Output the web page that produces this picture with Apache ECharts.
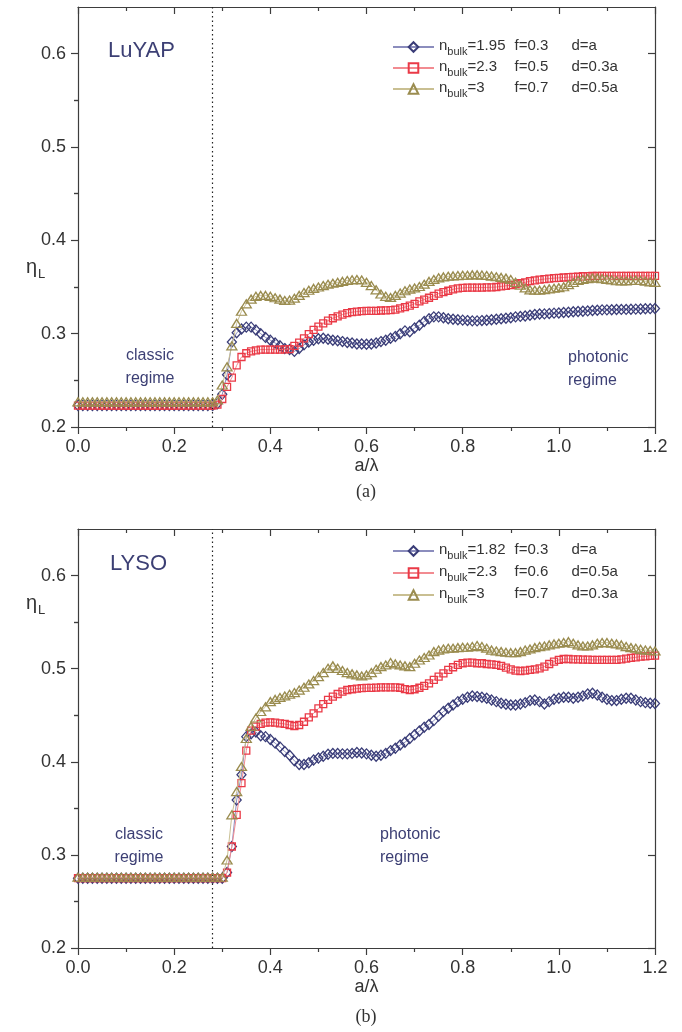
<!DOCTYPE html>
<html>
<head>
<meta charset="utf-8">
<script src="https://cdn.jsdelivr.net/npm/echarts@6/dist/echarts.min.js"></script>
<style>
  html, body { margin: 0; padding: 0; background: #fff; }
  #chart { width: 682px; height: 1032px; }
</style>
</head>
<body>
<div id="chart"></div>
<script>
// Sampling grid of the normalised frequency a/lambda
const aOverLambda = [
  0.00,0.01,0.02,0.03,0.04,0.05,0.06,0.07,0.08,0.09,
  0.10,0.11,0.12,0.13,0.14,0.15,0.16,0.17,0.18,0.19,
  0.20,0.21,0.22,0.23,0.24,0.25,0.26,0.27,0.28,0.29,
  0.30,0.31,0.32,0.33,0.34,0.35,0.36,0.37,0.38,0.39,
  0.40,0.41,0.42,0.43,0.44,0.45,0.46,0.47,0.48,0.49,
  0.50,0.51,0.52,0.53,0.54,0.55,0.56,0.57,0.58,0.59,
  0.60,0.61,0.62,0.63,0.64,0.65,0.66,0.67,0.68,0.69,
  0.70,0.71,0.72,0.73,0.74,0.75,0.76,0.77,0.78,0.79,
  0.80,0.81,0.82,0.83,0.84,0.85,0.86,0.87,0.88,0.89,
  0.90,0.91,0.92,0.93,0.94,0.95,0.96,0.97,0.98,0.99,
  1.00,1.01,1.02,1.03,1.04,1.05,1.06,1.07,1.08,1.09,
  1.10,1.11,1.12,1.13,1.14,1.15,1.16,1.17,1.18,1.19,
  1.20
];

// (a) LuYAP light extraction efficiency
const luyapN195 = [
  0.223,0.223,0.223,0.223,0.223,0.223,0.223,0.223,0.223,0.223,
  0.223,0.223,0.223,0.223,0.223,0.223,0.223,0.223,0.223,0.223,
  0.223,0.223,0.223,0.223,0.223,0.223,0.223,0.223,0.223,0.225,
  0.235,0.256,0.291,0.301,0.305,0.307,0.307,0.304,0.300,0.296,
  0.293,0.290,0.287,0.284,0.283,0.281,0.284,0.288,0.291,0.293,
  0.2945,0.295,0.294,0.293,0.2925,0.2915,0.2905,0.290,0.289,0.289,
  0.2887,0.289,0.290,0.2915,0.293,0.295,0.297,0.300,0.303,0.302,
  0.306,0.309,0.313,0.316,0.318,0.318,0.317,0.316,0.3155,0.315,
  0.3145,0.314,0.3137,0.3137,0.314,0.3144,0.315,0.3155,0.316,0.3165,
  0.317,0.318,0.3185,0.319,0.3197,0.3205,0.321,0.3212,0.3215,0.322,
  0.3222,0.3226,0.323,0.3234,0.3237,0.324,0.3244,0.3248,0.3251,0.3255,
  0.3255,0.3257,0.3258,0.326,0.326,0.3262,0.3263,0.3265,0.3267,0.3268,
  0.327
];
const luyapN23 = [
  0.223,0.223,0.223,0.223,0.223,0.223,0.223,0.223,0.223,0.223,
  0.223,0.223,0.223,0.223,0.223,0.223,0.223,0.223,0.223,0.223,
  0.223,0.223,0.223,0.223,0.223,0.223,0.223,0.223,0.223,0.224,
  0.230,0.243,0.253,0.266,0.275,0.279,0.281,0.282,0.283,0.283,
  0.283,0.283,0.283,0.2832,0.2835,0.287,0.2905,0.295,0.2995,0.304,
  0.3075,0.311,0.314,0.3165,0.3185,0.3205,0.322,0.323,0.3237,0.3242,
  0.3244,0.3244,0.3245,0.3248,0.325,0.3253,0.3258,0.327,0.3285,0.330,
  0.332,0.3345,0.3365,0.3385,0.3405,0.343,0.3445,0.346,0.3475,0.3485,
  0.349,0.3494,0.3494,0.3494,0.3494,0.3495,0.3497,0.350,0.3506,0.3513,
  0.352,0.353,0.354,0.355,0.3563,0.357,0.3578,0.3585,0.359,0.3595,
  0.3598,0.3602,0.3605,0.3608,0.361,0.3615,0.3617,0.3618,0.3619,0.362,
  0.362,0.362,0.362,0.362,0.362,0.362,0.362,0.362,0.362,0.362,
  0.362
];
const luyapN3 = [
  0.227,0.227,0.227,0.227,0.227,0.227,0.227,0.227,0.227,0.227,
  0.227,0.227,0.227,0.227,0.227,0.227,0.227,0.227,0.227,0.227,
  0.227,0.227,0.227,0.227,0.227,0.227,0.227,0.227,0.227,0.229,
  0.245,0.2645,0.287,0.311,0.324,0.332,0.337,0.340,0.341,0.341,
  0.340,0.3385,0.337,0.3355,0.336,0.338,0.341,0.344,0.3465,0.3485,
  0.350,0.3515,0.353,0.354,0.355,0.356,0.357,0.3577,0.358,0.3575,
  0.355,0.3515,0.347,0.3425,0.340,0.3388,0.341,0.3435,0.346,0.3478,
  0.349,0.3505,0.353,0.356,0.358,0.3598,0.3608,0.3615,0.3619,0.3622,
  0.3626,0.3626,0.363,0.363,0.3628,0.3623,0.3617,0.361,0.3603,0.3595,
  0.358,0.355,0.352,0.349,0.347,0.3465,0.3466,0.3472,0.348,0.3487,
  0.3493,0.3503,0.3525,0.3548,0.357,0.358,0.359,0.3597,0.3595,0.3588,
  0.3582,0.3575,0.3567,0.3565,0.3565,0.357,0.3572,0.357,0.3562,0.3555,
  0.355
];

// (b) LYSO light extraction efficiency
const lysoN182 = [
  0.275,0.275,0.275,0.275,0.275,0.275,0.275,0.275,0.275,0.275,
  0.275,0.275,0.275,0.275,0.275,0.275,0.275,0.275,0.275,0.275,
  0.275,0.275,0.275,0.275,0.275,0.275,0.275,0.275,0.275,0.275,
  0.275,0.281,0.309,0.359,0.386,0.427,0.430,0.432,0.428,0.427,
  0.424,0.420,0.416,0.411,0.407,0.401,0.397,0.397,0.399,0.402,
  0.404,0.406,0.408,0.409,0.409,0.4085,0.4085,0.409,0.410,0.4095,
  0.4085,0.407,0.406,0.407,0.409,0.412,0.4145,0.418,0.421,0.425,
  0.429,0.433,0.437,0.440,0.4442,0.4492,0.4539,0.4575,0.461,0.4646,
  0.4671,0.4693,0.4707,0.470,0.4693,0.4682,0.4664,0.4646,0.4628,0.4618,
  0.461,0.461,0.4621,0.4635,0.4657,0.4664,0.4646,0.4621,0.4646,0.4671,
  0.4682,0.4693,0.4693,0.4682,0.4693,0.4707,0.4728,0.4736,0.4718,0.4693,
  0.4671,0.4657,0.4657,0.4671,0.4682,0.4682,0.4664,0.4646,0.4635,0.4628,
  0.4625
];
const lysoN23 = [
  0.275,0.275,0.275,0.275,0.275,0.275,0.275,0.275,0.275,0.275,
  0.275,0.275,0.275,0.275,0.275,0.275,0.275,0.275,0.275,0.275,
  0.275,0.275,0.275,0.275,0.275,0.275,0.275,0.275,0.275,0.275,
  0.275,0.281,0.309,0.343,0.377,0.412,0.4334,0.4377,0.4406,0.442,
  0.4424,0.442,0.4413,0.4406,0.4395,0.4384,0.4395,0.443,0.4477,0.452,
  0.4574,0.462,0.4664,0.470,0.4728,0.4753,0.4771,0.4779,0.4786,0.479,
  0.4793,0.4793,0.4797,0.480,0.480,0.480,0.480,0.4795,0.478,0.4771,
  0.4779,0.4795,0.4815,0.4843,0.4879,0.4915,0.495,0.4986,0.5015,0.504,
  0.5058,0.5065,0.5065,0.5058,0.5058,0.505,0.5047,0.504,0.5029,0.5011,
  0.4993,0.4979,0.4975,0.4979,0.4986,0.4993,0.5004,0.5022,0.505,0.5076,
  0.5094,0.5104,0.5104,0.510,0.510,0.5097,0.5097,0.5094,0.5094,0.5094,
  0.5094,0.5094,0.5094,0.510,0.5108,0.5115,0.5122,0.5129,0.5133,0.5137,
  0.514
];
const lysoN3 = [
  0.276,0.276,0.276,0.276,0.276,0.276,0.276,0.276,0.276,0.276,
  0.276,0.276,0.276,0.276,0.276,0.276,0.276,0.276,0.276,0.276,
  0.276,0.276,0.276,0.276,0.276,0.276,0.276,0.276,0.276,0.276,
  0.276,0.2945,0.343,0.368,0.395,0.425,0.438,0.447,0.454,0.459,
  0.4646,0.467,0.469,0.4707,0.4725,0.4743,0.477,0.480,0.4836,0.4872,
  0.4915,0.4958,0.5004,0.503,0.5004,0.498,0.4958,0.4944,0.4933,0.4922,
  0.4933,0.4958,0.4994,0.5022,0.504,0.5065,0.5051,0.504,0.503,0.5022,
  0.5058,0.5093,0.512,0.5147,0.5183,0.520,0.5212,0.522,0.522,0.5226,
  0.523,0.523,0.5237,0.5248,0.5237,0.522,0.520,0.519,0.5183,0.5176,
  0.5172,0.5172,0.5183,0.520,0.5212,0.5226,0.5237,0.5244,0.5255,0.5266,
  0.5273,0.528,0.529,0.5273,0.5255,0.5244,0.5244,0.5255,0.5273,0.528,
  0.528,0.5273,0.5266,0.5255,0.5237,0.5226,0.522,0.5208,0.520,0.5195,
  0.519
];

// Legend parameters: bulk index, filling factor, thickness
const nBulkA = ['1.95', '2.3', '3'];
const fillA  = ['0.3', '0.5', '0.7'];
const depthA = ['a', '0.3a', '0.5a'];
const nBulkB = ['1.82', '2.3', '3'];
const fillB  = ['0.3', '0.6', '0.7'];
const depthB = ['a', '0.5a', '0.3a'];

// Axis ticks
const xTicks = [0.0, 0.2, 0.4, 0.6, 0.8, 1.0, 1.2];
const yMajorTicks = [0.2, 0.3, 0.4, 0.5, 0.6];
const yMinorTicks = [0.25, 0.35, 0.45, 0.55];
const X_MIN = 0, X_MAX = 1.2, Y_MIN = 0.2, Y_MAX = 0.65;
const CLASSIC_LIMIT = 0.283;   // boundary between the classic and photonic regimes

const FONT = '"Liberation Sans", Arial, Helvetica, sans-serif';
const SERIF = '"Liberation Serif", "Times New Roman", serif';
const AXIS_COLOR = '#3d3d3d';
const TEXT_COLOR = '#333333';
const NAVY = '#3c3f74';

const styles = [
  { symbol: 'diamond',  size: [9, 10], edge: '#3a3d78', line: '#8b8dbd' },
  { symbol: 'rect',     size: 7,       edge: '#ea3a47', line: '#f28b91' },
  { symbol: 'triangle', size: [10, 8], edge: '#9a8c4f', line: '#c9bf92' }
];

const pairs = ys => aOverLambda.map((x, i) => [x, ys[i]]);

const grids = [
  { left: 78, right: 27, top: 7,   height: 420 },
  { left: 78, right: 27, top: 529, height: 419 }
];

function xAxesFor(gi) {
  const base = {
    type: 'value', gridIndex: gi, min: X_MIN, max: X_MAX, interval: 0.2,
    splitLine: { show: false },
    axisLine: { show: true, onZero: false, lineStyle: { color: AXIS_COLOR, width: 1.2 } },
    minorTick: { show: true, splitNumber: 2, length: 4, lineStyle: { color: AXIS_COLOR, width: 1.2 } },
    minorSplitLine: { show: false }
  };
  return [
    Object.assign({}, base, {
      position: 'bottom',
      axisTick: { show: true, length: 7, lineStyle: { color: AXIS_COLOR, width: 1.2 } },
      axisLabel: {
        show: true, margin: 11, fontSize: 18, color: TEXT_COLOR, fontFamily: FONT,
        customValues: xTicks, formatter: v => v.toFixed(1)
      },
      name: 'a/λ', nameLocation: 'middle', nameGap: 30,
      nameTextStyle: { fontSize: 18, color: TEXT_COLOR, fontFamily: FONT, verticalAlign: 'top' }
    }),
    Object.assign({}, base, {
      position: 'top',
      axisTick: { show: true, inside: true, length: 7, lineStyle: { color: AXIS_COLOR, width: 1.2 } },
      minorTick: { show: true, splitNumber: 2, length: 4, lineStyle: { color: AXIS_COLOR, width: 1.2 } },
      axisLabel: { show: false }
    })
  ];
}

function yAxesFor(gi) {
  const base = {
    type: 'value', gridIndex: gi, min: Y_MIN, max: Y_MAX, interval: 0.1,
    splitLine: { show: false }
  };
  const line = { show: true, onZero: false, lineStyle: { color: AXIS_COLOR, width: 1.2 } };
  const tick = (len, inside, values) => ({
    show: true, inside, length: len, customValues: values,
    lineStyle: { color: AXIS_COLOR, width: 1.2 }
  });
  return [
    Object.assign({}, base, {
      position: 'left', axisLine: line, axisTick: tick(7, false, yMajorTicks),
      axisLabel: {
        show: true, margin: 12, fontSize: 18, color: TEXT_COLOR, fontFamily: FONT,
        customValues: yMajorTicks, formatter: v => v.toFixed(1)
      }
    }),
    Object.assign({}, base, {
      position: 'left', axisLine: { show: false }, axisTick: tick(4, false, yMinorTicks),
      axisLabel: { show: false }
    }),
    Object.assign({}, base, {
      position: 'right', axisLine: line, axisTick: tick(7, true, yMajorTicks),
      axisLabel: { show: false }
    }),
    Object.assign({}, base, {
      position: 'right', axisLine: { show: false }, axisTick: tick(4, true, yMinorTicks),
      axisLabel: { show: false }
    })
  ];
}

const panelSeries = [
  { names: ['LuYAP n1.95', 'LuYAP n2.3', 'LuYAP n3'], values: [luyapN195, luyapN23, luyapN3] },
  { names: ['LYSO n1.82', 'LYSO n2.3', 'LYSO n3'],   values: [lysoN182, lysoN23, lysoN3] }
];

const legendText = {};
panelSeries[0].names.forEach((n, i) => {
  legendText[n] = `{n|n}{s|bulk}{v|=${nBulkA[i]}}{f|f=${fillA[i]}}{d|d=${depthA[i]}}`;
});
panelSeries[1].names.forEach((n, i) => {
  legendText[n] = `{n|n}{s|bulk}{v|=${nBulkB[i]}}{f|f=${fillB[i]}}{d|d=${depthB[i]}}`;
});

const series = [];
panelSeries.forEach((panel, gi) => {
  panel.values.forEach((ys, si) => {
    const st = styles[si];
    const s = {
      type: 'line', name: panel.names[si],
      xAxisIndex: gi * 2, yAxisIndex: gi * 4,
      data: pairs(ys),
      symbol: st.symbol, symbolSize: st.size, showSymbol: true,
      itemStyle: { color: 'rgba(255,255,255,0)', borderColor: st.edge, borderWidth: 1.3 },
      lineStyle: { color: st.line, width: 1 },
      emphasis: { disabled: true },
      z: 3 + si
    };
    if (si === 0) {
      s.markLine = {
        silent: true, symbol: ['none', 'none'], animation: false,
        label: { show: false },
        lineStyle: { color: '#222', width: 1.2, type: [1.5, 3] },
        data: [{ xAxis: CLASSIC_LIMIT }]
      };
    }
    series.push(s);
  });
});

const legendRich = {
  n: { fontSize: 15, lineHeight: 18, verticalAlign: 'top', color: TEXT_COLOR, fontFamily: FONT },
  s: { fontSize: 11, lineHeight: 10, padding: [8, 0, 0, 0], verticalAlign: 'top', color: TEXT_COLOR, fontFamily: FONT },
  v: { fontSize: 15, lineHeight: 18, verticalAlign: 'top', width: 47, color: TEXT_COLOR, fontFamily: FONT },
  f: { fontSize: 15, lineHeight: 18, verticalAlign: 'top', width: 57, color: TEXT_COLOR, fontFamily: FONT },
  d: { fontSize: 15, lineHeight: 18, verticalAlign: 'top', color: TEXT_COLOR, fontFamily: FONT }
};

const legendBase = {
  orient: 'vertical', left: 392, padding: 0, itemWidth: 41, itemHeight: 12,
  selectedMode: false, formatter: name => legendText[name],
  textStyle: { rich: legendRich }
};

function etaLabel(y) {
  return {
    type: 'text', x: 26, y: y,
    style: {
      text: '{e|η}{l|L}', verticalAlign: 'middle', align: 'left',
      rich: {
        e: { fontSize: 20, lineHeight: 22, verticalAlign: 'top', fill: TEXT_COLOR, fontFamily: FONT },
        l: { fontSize: 13, lineHeight: 12, padding: [11, 0, 0, 1], verticalAlign: 'top', fill: TEXT_COLOR, fontFamily: FONT }
      }
    }
  };
}

function note(text, x, y, align, size) {
  return {
    type: 'text', x: x, y: y,
    style: {
      text: text, fontSize: size, lineHeight: 23, fontFamily: FONT, fill: NAVY,
      align: align, verticalAlign: 'middle'
    }
  };
}

const option = {
  animation: false,
  backgroundColor: '#ffffff',
  grid: grids,
  xAxis: xAxesFor(0).concat(xAxesFor(1)),
  yAxis: yAxesFor(0).concat(yAxesFor(1)),
  legend: [
    Object.assign({}, legendBase, { data: panelSeries[0].names, top: 38, itemGap: 2 }),
    Object.assign({}, legendBase, { data: panelSeries[1].names, top: 542, itemGap: 3 })
  ],
  graphic: [
    etaLabel(268), etaLabel(604),
    note('LuYAP', 108, 51, 'left', 22),
    note('LYSO', 110, 564, 'left', 22),
    note('classic\nregime', 150, 367, 'center', 16),
    note('photonic\nregime', 568, 369, 'left', 16),
    note('classic\nregime', 139, 846, 'center', 16),
    note('photonic\nregime', 380, 846, 'left', 16),
    { type: 'text', x: 366, y: 492, style: { text: '(a)', fontSize: 18, fontFamily: SERIF, fill: TEXT_COLOR, align: 'center', verticalAlign: 'middle' } },
    { type: 'text', x: 366, y: 1017, style: { text: '(b)', fontSize: 18, fontFamily: SERIF, fill: TEXT_COLOR, align: 'center', verticalAlign: 'middle' } }
  ],
  series: series
};

const chart = echarts.init(document.getElementById('chart'), null, { renderer: 'canvas' });
chart.setOption(option);
</script>
</body>
</html>
